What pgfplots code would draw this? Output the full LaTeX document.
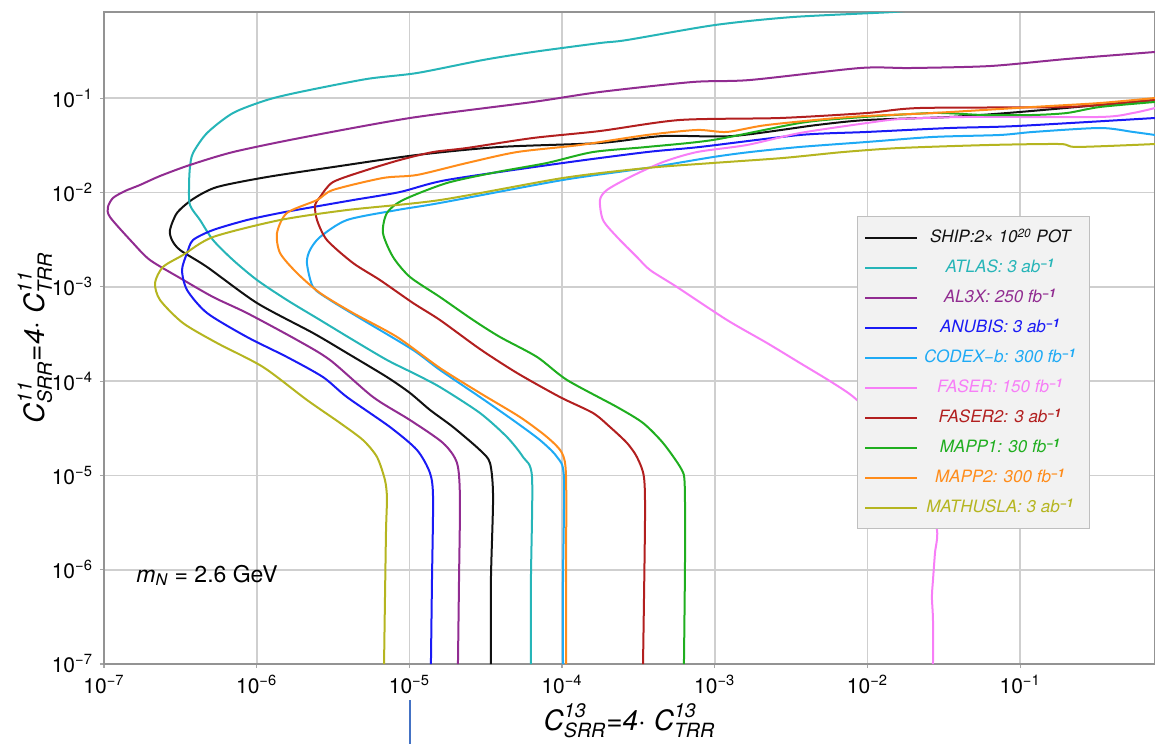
\documentclass[border=0pt]{standalone}
\usepackage{fontspec}
\setmainfont{TeX Gyre Heros}
\usepackage{amsmath}
\usepackage{pgfplots}
\pgfplotsset{compat=1.18}

% detector colours
\definecolor{cship}{HTML}{111111}
\definecolor{catlas}{HTML}{26B5B8}
\definecolor{cal3x}{HTML}{912C91}
\definecolor{canubis}{HTML}{1A1AF5}
\definecolor{ccodex}{HTML}{1EAAF5}
\definecolor{cfaser}{HTML}{F77EF7}
\definecolor{cfaser2}{HTML}{B21F1F}
\definecolor{cmapp1}{HTML}{1FAE1F}
\definecolor{cmapp2}{HTML}{FF8C1A}
\definecolor{cmath}{HTML}{B5B520}

\newcommand{\ti}[1]{\text{\itshape #1}}
\newcommand{\ex}[1]{10\textsuperscript{−#1}}

\begin{document}
\begin{tikzpicture}
\begin{axis}[
    name=ax,
    scale only axis,
    width=525.5pt, height=326pt,
    % axes hold log10 of the couplings
    xmin=-7, xmax=-0.117, ymin=-7, ymax=-0.086,
    xtick={-7,...,-1}, ytick={-7,...,-1},
    xticklabels={\ex{7},\ex{6},\ex{5},\ex{4},\ex{3},\ex{2},\ex{1}},
    yticklabels={\ex{7},\ex{6},\ex{5},\ex{4},\ex{3},\ex{2},\ex{1}},
    tick label style={font=\fontsize{10.5}{12}\selectfont},
    tick align=outside, tick pos=left, major tick length=2pt,
    tick style={draw=gray!70, line width=0.6pt},
    grid=major,
    major grid style={draw=black!19, line width=0.85pt},
    axis line style={draw=gray!85, line width=0.8pt},
    xlabel={$\ti{C}^{\ti{13}}_{\ti{SRR}}\ti{=4· C}^{\ti{13}}_{\ti{TRR}}$},
    ylabel={$\ti{C}^{\ti{11}}_{\ti{SRR}}\ti{=4· C}^{\ti{11}}_{\ti{TRR}}$},
    label style={font=\fontsize{14}{16}\selectfont},
    xlabel style={at={(axis description cs:0.5,-0.06)}, anchor=north, inner sep=0pt},
    ylabel style={at={(axis description cs:-0.0657,0.5)}, anchor=center, inner sep=0pt},
    every axis plot/.append style={line width=1pt, line join=round, mark=none, smooth, tension=0.45},
    legend cell align=center,
    legend image code/.code={\draw[#1, sharp plot] (0pt,0pt) -- (26pt,0pt);},
    legend style={at={(0.716,0.687)}, anchor=north west,
        fill=black!5, draw=black!25, line width=0.6pt,
        inner sep=3.5pt, row sep=1pt,
        font=\fontsize{8.5}{10}\selectfont\itshape,
        nodes={inner sep=3pt, text height=6.5pt, text depth=1.5pt}},
]

\addplot[cship] coordinates {
(-4.466,-7) (-4.466,-6.109) (-4.452,-5.229) (-4.472,-4.869) (-4.538,-4.731)
(-4.714,-4.487) (-4.865,-4.306) (-4.996,-4.126) (-5.147,-3.957) (-5.409,-3.702)
(-5.631,-3.490) (-5.998,-3.172) (-6.325,-2.790) (-6.502,-2.610) (-6.555,-2.504)
(-6.568,-2.398) (-6.522,-2.217) (-6.417,-2.069) (-6.260,-1.942) (-5.933,-1.836)
(-5.500,-1.730) (-4.950,-1.602) (-4.407,-1.517) (-3.752,-1.475) (-3.339,-1.401)
(-2.881,-1.401) (-2.331,-1.284) (-2.003,-1.231) (-1.460,-1.199) (-1.001,-1.146)
(-0.117,-1.019)};
\addlegendentry{\textcolor{cship}{SHIP:2× 10\textsuperscript{20} POT}}

\addplot[catlas] coordinates {
(-4.204,-7) (-4.204,-6.109) (-4.197,-5.017) (-4.256,-4.805) (-4.361,-4.593)
(-4.538,-4.338) (-4.800,-4.063) (-4.976,-3.914) (-5.147,-3.776) (-5.369,-3.564)
(-5.585,-3.352) (-5.802,-3.140) (-5.998,-2.928) (-6.155,-2.716) (-6.286,-2.504)
(-6.371,-2.292) (-6.437,-2.133) (-6.443,-1.920) (-6.437,-1.730) (-6.417,-1.581)
(-6.325,-1.369) (-6.155,-1.157) (-5.933,-1.019) (-5.716,-0.934) (-5.278,-0.796)
(-4.950,-0.733) (-4.518,-0.595) (-4.191,-0.510) (-3.752,-0.415) (-3.575,-0.383)
(-2.999,-0.224) (-2.488,-0.139) (-1.833,-0.086) (-1.656,-0.054)};
\addlegendentry{\textcolor{catlas}{ATLAS: 3 ab\textsuperscript{\bfseries −1}}}

\addplot[cal3x] coordinates {
(-4.682,-7) (-4.675,-6.109) (-4.669,-5.240) (-4.688,-4.869) (-4.780,-4.656)
(-4.996,-4.413) (-5.238,-4.169) (-5.520,-3.776) (-5.736,-3.564) (-6.064,-3.278)
(-6.286,-3.108) (-6.502,-2.907) (-6.699,-2.716) (-6.810,-2.536) (-6.961,-2.260)
(-6.974,-2.154) (-6.941,-2.058) (-6.862,-1.984) (-6.764,-1.920) (-6.633,-1.825)
(-6.437,-1.708) (-6.155,-1.571)
(-5.716,-1.422) (-4.996,-1.210) (-4.191,-1.040) (-3.752,-0.934) (-3.143,-0.828)
(-2.769,-0.807) (-2.049,-0.680) (-1.722,-0.680) (-1.198,-0.659) (-0.694,-0.584)
(-0.117,-0.510)};
\addlegendentry{\textcolor{cal3x}{AL3X: 250 fb\textsuperscript{\bfseries −1}}}

\addplot[canubis] coordinates {
(-4.859,-7) (-4.852,-6.109) (-4.845,-5.240) (-4.865,-4.975) (-4.950,-4.731)
(-5.127,-4.487) (-5.409,-4.169) (-5.566,-3.957) (-5.802,-3.744) (-6.064,-3.532)
(-6.325,-3.278) (-6.456,-3.034) (-6.489,-2.822) (-6.456,-2.642) (-6.417,-2.504)
(-6.286,-2.398) (-6.064,-2.292) (-5.847,-2.217) (-5.631,-2.154) (-5.369,-2.080)
(-5.062,-1.995) (-4.754,-1.867) (-3.994,-1.687) (-3.444,-1.571) (-3.097,-1.517)
(-2.442,-1.390) (-2.003,-1.358) (-1.460,-1.316) (-1.021,-1.295) (-0.117,-1.210)};
\addlegendentry{\textcolor{canubis}{ANUBIS: 3 ab\textsuperscript{\bfseries −1}}}

\addplot[ccodex] coordinates {
(-3.994,-7) (-3.994,-6.109) (-3.988,-5.017) (-4.033,-4.805) (-4.145,-4.625)
(-4.322,-4.413) (-4.538,-4.169) (-4.800,-3.882) (-4.976,-3.670) (-5.304,-3.352)
(-5.520,-3.140) (-5.631,-3.002) (-5.671,-2.748) (-5.651,-2.610) (-5.585,-2.472)
(-5.409,-2.292) (-5.081,-2.186) (-4.800,-2.111) (-3.994,-1.867) (-3.444,-1.740)
(-3.012,-1.624) (-2.769,-1.571) (-2.442,-1.517) (-2.003,-1.464) (-1.571,-1.411)
(-1.132,-1.390) (-0.916,-1.358) (-0.477,-1.316) (-0.261,-1.358) (-0.117,-1.390)};
\addlegendentry{\textcolor{ccodex}{CODEX−b: 300 fb\textsuperscript{\bfseries −1}}}

\addplot[cfaser] coordinates {
(-1.571,-7) (-1.571,-6.533) (-1.578,-6.289) (-1.571,-6.109) (-1.558,-5.823)
(-1.545,-5.579) (-1.623,-5.155) (-1.820,-4.625) (-2.069,-4.200) (-2.226,-4.020)
(-2.442,-3.808) (-2.658,-3.596) (-2.920,-3.352) (-3.248,-3.002) (-3.424,-2.822)
(-3.510,-2.684) (-3.640,-2.472) (-3.732,-2.292) (-3.752,-2.080) (-3.706,-1.973)
(-3.555,-1.836) (-3.339,-1.677) (-3.117,-1.571) (-2.789,-1.496) (-2.442,-1.369)
(-2.003,-1.263) (-1.787,-1.221) (-1.348,-1.199) (-0.477,-1.199) (-0.261,-1.157)
(-0.117,-1.104)};
\addlegendentry{\textcolor{cfaser}{FASER: 150 fb\textsuperscript{\bfseries −1}}}

\addplot[cfaser2] coordinates {
(-3.470,-7) (-3.457,-5.473) (-3.464,-5.017) (-3.510,-4.805) (-3.575,-4.656)
(-3.686,-4.487) (-3.798,-4.338) (-4.014,-4.169) (-4.295,-3.914) (-4.538,-3.660)
(-4.800,-3.352) (-4.976,-3.172) (-5.193,-2.928) (-5.369,-2.748) (-5.540,-2.504)
(-5.605,-2.292) (-5.618,-2.133) (-5.585,-2.048) (-5.500,-1.889) (-5.278,-1.761)
(-5.062,-1.655) (-4.845,-1.571) (-4.623,-1.528) (-4.191,-1.422) (-3.752,-1.348)
(-3.228,-1.231) (-2.573,-1.210) (-2.003,-1.157) (-1.656,-1.104) (-0.694,-1.093)
(-0.261,-1.040) (-0.117,-1.019)};
\addlegendentry{\textcolor{cfaser2}{FASER2: 3 ab\textsuperscript{\bfseries −1}}}

\addplot[cmapp1] coordinates {
(-3.202,-7) (-3.195,-5.897) (-3.197,-5.100) (-3.220,-4.930) (-3.339,-4.656)
(-3.470,-4.444) (-3.640,-4.275) (-3.968,-3.988) (-4.164,-3.744) (-4.407,-3.532)
(-4.583,-3.352) (-4.800,-3.108) (-4.996,-2.896) (-5.107,-2.684) (-5.173,-2.430)
(-5.147,-2.217) (-5.042,-2.080) (-4.754,-1.899) (-4.426,-1.783) (-4.099,-1.687)
(-3.798,-1.571) (-3.444,-1.517) (-3.012,-1.443) (-2.442,-1.263) (-2.115,-1.210)
(-1.571,-1.157) (-1.244,-1.178) (-0.916,-1.178) (-0.694,-1.157) (-0.477,-1.093)
(-0.117,-1.040)};
\addlegendentry{\textcolor{cmapp1}{MAPP1: 30 fb\textsuperscript{\bfseries −1}}}

\addplot[cmapp2] coordinates {
(-3.974,-7) (-3.974,-6.109) (-3.974,-5.017) (-4.001,-4.762) (-4.099,-4.593)
(-4.276,-4.381) (-4.538,-4.126) (-4.800,-3.861) (-5.081,-3.532) (-5.369,-3.278)
(-5.585,-3.066) (-5.736,-2.854) (-5.847,-2.642) (-5.867,-2.430) (-5.802,-2.217)
(-5.605,-2.080) (-5.500,-1.973) (-5.173,-1.846) (-4.950,-1.814) (-4.623,-1.687)
(-4.295,-1.571) (-3.883,-1.496) (-3.444,-1.390) (-3.117,-1.337) (-2.920,-1.358)
(-2.658,-1.284) (-2.115,-1.199) (-1.571,-1.157) (-0.916,-1.093) (-0.477,-1.051)
(-0.117,-0.998)};
\addlegendentry{\textcolor{cmapp2}{MAPP2: 300 fb\textsuperscript{\bfseries −1}}}

\addplot[cmath] coordinates {
(-5.166,-7) (-5.160,-6.321) (-5.153,-5.579) (-5.147,-5.240) (-5.160,-5.049)
(-5.212,-4.805) (-5.304,-4.625) (-5.454,-4.444) (-5.671,-4.200) (-5.959,-3.850)
(-6.260,-3.596) (-6.483,-3.384) (-6.633,-3.140) (-6.666,-2.960) (-6.614,-2.790)
(-6.483,-2.663) (-6.286,-2.472) (-5.847,-2.292) (-5.409,-2.186) (-4.800,-2.080)
(-3.994,-1.846) (-3.444,-1.740) (-3.012,-1.687) (-2.553,-1.634) (-2.160,-1.571)
(-1.787,-1.528) (-1.198,-1.496) (-0.739,-1.486) (-0.628,-1.517) (-0.117,-1.486)};
\addlegendentry{\textcolor{cmath}{MATHUSLA: 3 ab\textsuperscript{\bfseries −1}}}

\node[anchor=west, font=\fontsize{11.5}{13}\selectfont, inner sep=0pt]
    at (axis cs:-6.79,-6.06) {$\ti{m}_{\ti{N}}$ = 2.6 GeV};
\end{axis}
% small blue stroke below the x axis in the original
\draw[draw={rgb,255:red,68;green,114;blue,196}, line width=0.9pt]
    ([xshift=153pt,yshift=-18pt]ax.south west) -- ([xshift=153pt,yshift=-40pt]ax.south west);
\pgfresetboundingbox
\path[use as bounding box] ([xshift=-52pt,yshift=-39.5pt]ax.south west)
    rectangle ([yshift=6pt]ax.north east);
\end{tikzpicture}
\end{document}
